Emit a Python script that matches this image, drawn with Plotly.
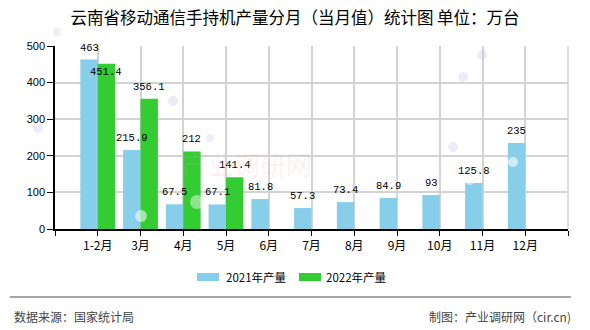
import plotly.graph_objects as go

months = ["1-2月", "3月", "4月", "5月", "6月", "7月", "8月", "9月", "10月", "11月", "12月"]
output_2021 = [463, 215.9, 67.5, 67.1, 81.8, 57.3, 73.4, 84.9, 93, 125.8, 235]
output_2022 = [451.4, 356.1, 212, 141.4, None, None, None, None, None, None, None]
series_names = ["2021年产量", "2022年产量"]
series_colors = ["#87CEEB", "#33CC33"]
y_ticks = [0, 100, 200, 300, 400, 500]

title_text = "云南省移动通信手持机产量分月（当月值）统计图 单位：万台"
source_text = "数据来源：国家统计局"
maker_text = "制图：产业调研网（cir.cn)"

W, H = 590, 330
L, R, T, B = 55, 22, 46, 101
PW, PH = W - L - R, H - T - B


def px(x):
    return (x - L) / PW


def py(y):
    return (H - B - y) / PH


xpos = list(range(len(months)))

fig = go.Figure()
for name, vals, color in zip(series_names, [output_2021, output_2022], series_colors):
    fig.add_trace(go.Bar(x=xpos, y=vals, name=name, marker_color=color,
                         marker_line_width=0, showlegend=False))

annotations = []
label_font = dict(family="Liberation Mono, DejaVu Sans Mono, monospace", size=10.5, color="#000")
offsets = [-8.7, 8.7]
for si, vals in enumerate([output_2021, output_2022]):
    for i, v in enumerate(vals):
        if v is None:
            continue
        text = f"{v:g}"
        shift = 12
        # the tallest 2022 label would collide with its neighbour, so it sits inside the bar
        if si == 1 and v > 400:
            shift = -8
        annotations.append(dict(x=i, y=v, xref="x", yref="y", text=text, showarrow=False,
                                xshift=offsets[si], yshift=shift, yanchor="middle",
                                font=label_font))

# watermark
annotations.append(dict(x=px(247), y=py(163), xref="paper", yref="paper", text="产业调研网",
                        showarrow=False, font=dict(family="Noto Sans CJK SC", size=26,
                                                   color="rgba(235,170,170,0.16)")))

# legend drawn as swatches with labels
shapes = []
legend_items = [(197, 224), (299, 324)]
for (sx, tx), name, color in zip(legend_items, series_names, series_colors):
    shapes.append(dict(type="rect", xref="paper", yref="paper", x0=px(sx), x1=px(sx + 22),
                       y0=py(281), y1=py(273), fillcolor=color, line_width=0))
    annotations.append(dict(x=px(tx), y=py(277), xref="paper", yref="paper", text=name,
                            showarrow=False, xanchor="left", yanchor="middle",
                            font=dict(family="Noto Sans CJK SC", size=11.5, color="#000")))

# footer
shapes.append(dict(type="line", xref="paper", yref="paper", x0=px(10), x1=px(571),
                   y0=py(297), y1=py(297), line=dict(color="#888", width=1.5)))
annotations.append(dict(x=px(12), y=py(316), xref="paper", yref="paper", text=source_text,
                        showarrow=False, xanchor="left", yanchor="middle",
                        font=dict(family="Noto Sans CJK SC", size=12, color="#444")))
annotations.append(dict(x=px(573), y=py(316), xref="paper", yref="paper", text=maker_text,
                        showarrow=False, xanchor="right", yanchor="middle",
                        font=dict(family="Noto Sans CJK SC", size=12, color="#444")))

# right border of the plot
shapes.append(dict(type="line", xref="paper", yref="paper", x0=1, x1=1, y0=0, y1=1,
                   line=dict(color="#d3d3d3", width=1.5)))

# soft background bubbles
bubbles = [(141, 216, 6, "rgba(255,255,255,0.55)"), (197, 202, 7, "rgba(255,255,255,0.45)"),
           (470, 181, 4, "rgba(255,255,255,0.5)"), (513, 162, 5, "rgba(255,255,255,0.6)"),
           (482, 55, 5, "rgba(200,200,235,0.35)"), (463, 77, 5, "rgba(200,200,235,0.35)"),
           (453, 147, 5, "rgba(200,200,235,0.35)"), (173, 101, 5, "rgba(200,200,235,0.35)"),
           (210, 138, 4, "rgba(200,200,235,0.3)"), (38, 128, 5, "rgba(200,200,235,0.3)"),
           (57, 32, 4, "rgba(200,200,235,0.3)")]
for bx, by, r, c in bubbles:
    shapes.append(dict(type="circle", xref="paper", yref="paper", x0=px(bx - r), x1=px(bx + r),
                       y0=py(by + r), y1=py(by - r), fillcolor=c, line_width=0, layer="above"))

fig.update_layout(
    width=W, height=H,
    margin=dict(l=L, r=R, t=T, b=B),
    paper_bgcolor="white", plot_bgcolor="white",
    barmode="group", bargap=0.186, bargroupgap=0,
    title=dict(text=title_text, x=0.5, xanchor="center", y=1 - 18 / H, yanchor="middle",
               font=dict(family="Noto Sans CJK SC", size=16.5, color="#000")),
    xaxis=dict(range=[-1, len(months)], tickmode="array",
               tickvals=list(range(-1, len(months) + 1)),
               ticktext=[""] + months + [""],
               showgrid=True, gridcolor="#d3d3d3", gridwidth=1.5,
               showline=True, linecolor="#000", linewidth=1.5,
               ticks="outside", ticklen=5, tickcolor="#000",
               tickfont=dict(family="Noto Sans CJK SC", size=12, color="#000"),
               zeroline=False, fixedrange=True),
    yaxis=dict(range=[0, 500], tickvals=y_ticks, showgrid=True, gridcolor="#d3d3d3",
               gridwidth=1.5, showline=True, linecolor="#000", linewidth=1.5,
               ticks="outside", ticklen=6, tickcolor="#000",
               tickfont=dict(family="Liberation Sans, Arial", size=11, color="#000"),
               zeroline=False, fixedrange=True),
    annotations=annotations, shapes=shapes,
    showlegend=False,
)

fig.write_html("out.html", config={"displayModeBar": False})
